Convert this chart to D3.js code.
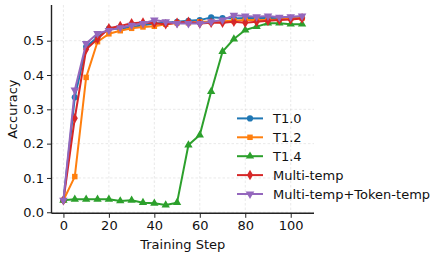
<!DOCTYPE html>
<html>
<head>
<meta charset="utf-8">
<script src="https://cdn.jsdelivr.net/npm/d3@7"></script>
<style>
  body { margin: 0; background: #fff; }
  svg { display: block; font-family: "DejaVu Sans", sans-serif; }
</style>
</head>
<body>
<div id="chart"></div>
<script>
// training steps
const steps = [0, 5, 10, 15, 20, 25, 30, 35, 40, 45, 50, 55, 60, 65, 70, 75, 80, 85, 90, 95, 100, 105];

// accuracy per run
const t10 = [0.035, 0.335, 0.482, 0.510, 0.535, 0.535, 0.540, 0.545, 0.550, 0.552, 0.555, 0.558, 0.560, 0.568, 0.566, 0.565, 0.566, 0.566, 0.566, 0.566, 0.566, 0.567];
const t12 = [0.035, 0.104, 0.393, 0.497, 0.520, 0.529, 0.536, 0.540, 0.542, 0.548, 0.552, 0.552, 0.555, 0.555, 0.557, 0.558, 0.560, 0.560, 0.560, 0.562, 0.565, 0.566];
const t14 = [0.035, 0.038, 0.038, 0.038, 0.038, 0.033, 0.035, 0.028, 0.026, 0.021, 0.028, 0.196, 0.225, 0.352, 0.468, 0.505, 0.531, 0.541, 0.551, 0.551, 0.548, 0.548];
const multiTemp = [0.035, 0.274, 0.475, 0.505, 0.536, 0.543, 0.551, 0.553, 0.551, 0.548, 0.552, 0.555, 0.550, 0.552, 0.552, 0.555, 0.552, 0.555, 0.558, 0.560, 0.562, 0.565];
const multiToken = [0.035, 0.356, 0.492, 0.521, 0.530, 0.538, 0.545, 0.550, 0.560, 0.555, 0.550, 0.550, 0.550, 0.555, 0.560, 0.574, 0.572, 0.570, 0.572, 0.568, 0.570, 0.572];

const xTicks = [0, 20, 40, 60, 80, 100];
const yTicks = [0.0, 0.1, 0.2, 0.3, 0.4, 0.5];

const series = [
  { name: 'T1.0', values: t10, color: '#1f77b4', symbol: d3.symbolCircle, size: 30 },
  { name: 'T1.2', values: t12, color: '#ff7f0e', symbol: d3.symbolSquare, size: 30 },
  { name: 'T1.4', values: t14, color: '#2ca02c', symbol: d3.symbolTriangle, size: 30 },
  { name: 'Multi-temp', values: multiTemp, color: '#d62728', symbol: d3.symbolDiamond, size: 32 },
  { name: 'Multi-temp+Token-temp', values: multiToken, color: '#9467bd', symbol: d3.symbolTriangle, size: 32, rotate: 180 },
];

const width = 444;
const height = 258;
const plot = { left: 51.5, right: 314, top: 5, bottom: 213.3 };
const fontSize = '13px';

const svg = d3.select('#chart')
  .append('svg')
  .attr('width', width)
  .attr('height', height);

const xScale = d3.scaleLinear().domain([-5.25, 110.25]).range([plot.left, plot.right]);
const yScale = d3.scaleLinear().domain([-0.003, 0.604]).range([plot.bottom, plot.top]);

// gridlines
const grid = svg.append('g').attr('class', 'grid');
grid.selectAll('line.gx')
  .data(xTicks)
  .join('line')
  .attr('class', 'gx')
  .attr('x1', d => xScale(d)).attr('x2', d => xScale(d))
  .attr('y1', plot.top).attr('y2', plot.bottom)
  .attr('stroke', '#b0b0b0').attr('stroke-opacity', 0.35)
  .attr('stroke-width', 0.8).attr('stroke-dasharray', '2.5,2');
grid.selectAll('line.gy')
  .data(yTicks)
  .join('line')
  .attr('class', 'gy')
  .attr('y1', d => yScale(d)).attr('y2', d => yScale(d))
  .attr('x1', plot.left).attr('x2', plot.right)
  .attr('stroke', '#b0b0b0').attr('stroke-opacity', 0.35)
  .attr('stroke-width', 0.8).attr('stroke-dasharray', '2.5,2');

// axes
const xAxis = svg.append('g')
  .attr('transform', `translate(0, ${plot.bottom})`)
  .call(d3.axisBottom(xScale).tickValues(xTicks).tickSize(4.5).tickPadding(3).tickFormat(d3.format('d')));
xAxis.select('.domain').attr('d', `M${plot.left},0H${plot.right}`);

const yAxis = svg.append('g')
  .attr('transform', `translate(${plot.left}, 0)`)
  .call(d3.axisLeft(yScale).tickValues(yTicks).tickSize(4.5).tickPadding(3).tickFormat(d3.format('.1f')));
yAxis.select('.domain').attr('d', `M0,${plot.bottom}V${plot.top}`);

svg.selectAll('.domain').attr('stroke', '#222').attr('stroke-width', 1.4);
svg.selectAll('.tick line').attr('stroke', '#222').attr('stroke-width', 1);
svg.selectAll('.tick text').attr('fill', '#111').style('font-size', fontSize).style('font-family', '"DejaVu Sans", sans-serif');

// axis labels
svg.append('text')
  .attr('x', (plot.left + plot.right) / 2)
  .attr('y', 248.5)
  .attr('text-anchor', 'middle')
  .style('font-size', fontSize)
  .attr('fill', '#111')
  .text('Training Step');

svg.append('text')
  .attr('transform', `translate(16.5, ${(plot.top + plot.bottom) / 2}) rotate(-90)`)
  .attr('text-anchor', 'middle')
  .style('font-size', fontSize)
  .attr('fill', '#111')
  .text('Accuracy');

// lines + markers
const line = d3.line()
  .x((d, i) => xScale(steps[i]))
  .y(d => yScale(d));

function symbolPath(s) {
  return d3.symbol().type(s.symbol).size(s.size)();
}

for (const s of series) {
  const g = svg.append('g');
  g.append('path')
    .datum(s.values)
    .attr('d', line)
    .attr('fill', 'none')
    .attr('stroke', s.color)
    .attr('stroke-width', 2)
    .attr('stroke-linejoin', 'round');
  g.selectAll('path.mark')
    .data(s.values)
    .join('path')
    .attr('class', 'mark')
    .attr('d', symbolPath(s))
    .attr('transform', (d, i) => `translate(${xScale(steps[i])}, ${yScale(d)}) rotate(${s.rotate || 0})`)
    .attr('fill', s.color);
}

// legend
const legend = svg.append('g').attr('transform', 'translate(237, 118.4)');
series.forEach((s, i) => {
  const row = legend.append('g').attr('transform', `translate(0, ${i * 18.9})`);
  row.append('line')
    .attr('x1', 0).attr('x2', 26)
    .attr('stroke', s.color).attr('stroke-width', 2);
  row.append('path')
    .attr('d', symbolPath(s))
    .attr('transform', `translate(13, 0) rotate(${s.rotate || 0})`)
    .attr('fill', s.color);
  row.append('text')
    .attr('x', 36)
    .attr('y', 4.7)
    .style('font-size', fontSize)
    .attr('fill', '#111')
    .text(s.name);
});
</script>
</body>
</html>
